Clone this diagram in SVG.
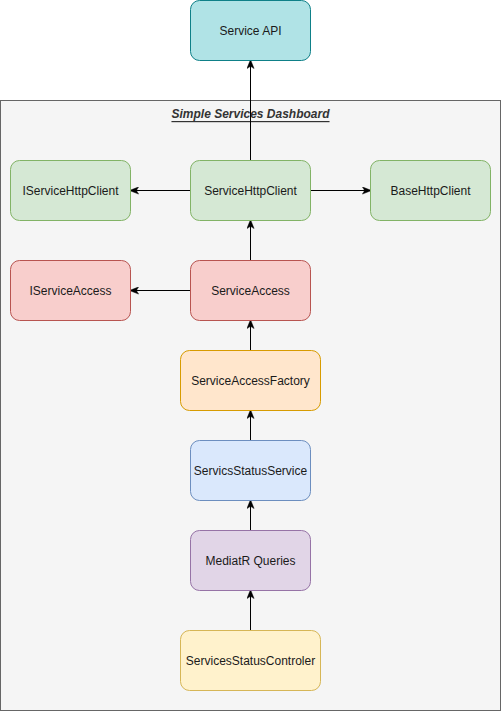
<svg xmlns="http://www.w3.org/2000/svg" width="501" height="711" viewBox="0 0 501 711">
<style>
.n rect{stroke-width:1}
.t{font-family:"Liberation Sans",Arial,sans-serif;font-size:12px;fill:#1a1a1a;text-anchor:middle;dominant-baseline:central}
.c{fill:none;stroke:#000;stroke-width:1;marker-end:url(#ah)}
.green{fill:#d5e8d4;stroke:#82b366}
.red{fill:#f8cecc;stroke:#b85450}
.orange{fill:#ffe6cc;stroke:#d79b00}
.blue{fill:#dae8fc;stroke:#6c8ebf}
.purple{fill:#e1d5e7;stroke:#9673a6}
.yellow{fill:#fff2cc;stroke:#d6b656}
.teal{fill:#b0e3e6;stroke:#0e8088}
</style>
<defs>
<marker id="ah" viewBox="0 0 10 8" refX="9" refY="4" markerWidth="9" markerHeight="8" markerUnits="userSpaceOnUse" orient="auto">
<path d="M0,0 L10,4 L0,8 L2.5,4 Z" fill="#000" stroke="#000" stroke-width="0.5"/>
</marker>
</defs>
<rect width="501" height="711" fill="#ffffff"/>
<g id="container">
<rect x="0.5" y="100.5" width="500" height="610" fill="#f5f5f5" stroke="#666666"/>
<text x="250.5" y="114" class="t" style="font-style:italic;font-weight:bold;text-decoration:underline;fill:#333333">Simple Services Dashboard</text>
</g>
<g id="connectors">
<path class="c" d="M250.5,160.5 L250.5,60.5"/>
<path class="c" d="M190.5,190.5 L130.5,190.5"/>
<path class="c" d="M310.5,190.5 L370.5,190.5"/>
<path class="c" d="M250.5,260.5 L250.5,220.5"/>
<path class="c" d="M190.5,290.5 L130.5,290.5"/>
<path class="c" d="M250.5,350.5 L250.5,320.5"/>
<path class="c" d="M250.5,440.5 L250.5,410.5"/>
<path class="c" d="M250.5,530.5 L250.5,500.5"/>
<path class="c" d="M250.5,630.5 L250.5,590.5"/>
</g>
<g id="service-api" class="n"><rect x="190.5" y="0.5" width="120" height="60" rx="9" class="teal"/><text x="250.5" y="30.5" class="t">Service API</text></g>
<g id="iservicehttpclient" class="n"><rect x="10.5" y="160.5" width="120" height="60" rx="9" class="green"/><text x="70.5" y="190.5" class="t">IServiceHttpClient</text></g>
<g id="servicehttpclient" class="n"><rect x="190.5" y="160.5" width="120" height="60" rx="9" class="green"/><text x="250.5" y="190.5" class="t">ServiceHttpClient</text></g>
<g id="basehttpclient" class="n"><rect x="370.5" y="160.5" width="120" height="60" rx="9" class="green"/><text x="430.5" y="190.5" class="t">BaseHttpClient</text></g>
<g id="iserviceaccess" class="n"><rect x="10.5" y="260.5" width="120" height="60" rx="9" class="red"/><text x="70.5" y="290.5" class="t">IServiceAccess</text></g>
<g id="serviceaccess" class="n"><rect x="190.5" y="260.5" width="120" height="60" rx="9" class="red"/><text x="250.5" y="290.5" class="t">ServiceAccess</text></g>
<g id="serviceaccessfactory" class="n"><rect x="180.5" y="350.5" width="140" height="60" rx="9" class="orange"/><text x="250.5" y="380.5" class="t">ServiceAccessFactory</text></g>
<g id="servicsstatusservice" class="n"><rect x="190.5" y="440.5" width="120" height="60" rx="9" class="blue"/><text x="250.5" y="470.5" class="t">ServicsStatusService</text></g>
<g id="mediatr-queries" class="n"><rect x="190.5" y="530.5" width="120" height="60" rx="9" class="purple"/><text x="250.5" y="560.5" class="t">MediatR Queries</text></g>
<g id="servicesstatuscontroler" class="n"><rect x="180.5" y="630.5" width="140" height="60" rx="9" class="yellow"/><text x="250.5" y="660.5" class="t">ServicesStatusControler</text></g>
</svg>
